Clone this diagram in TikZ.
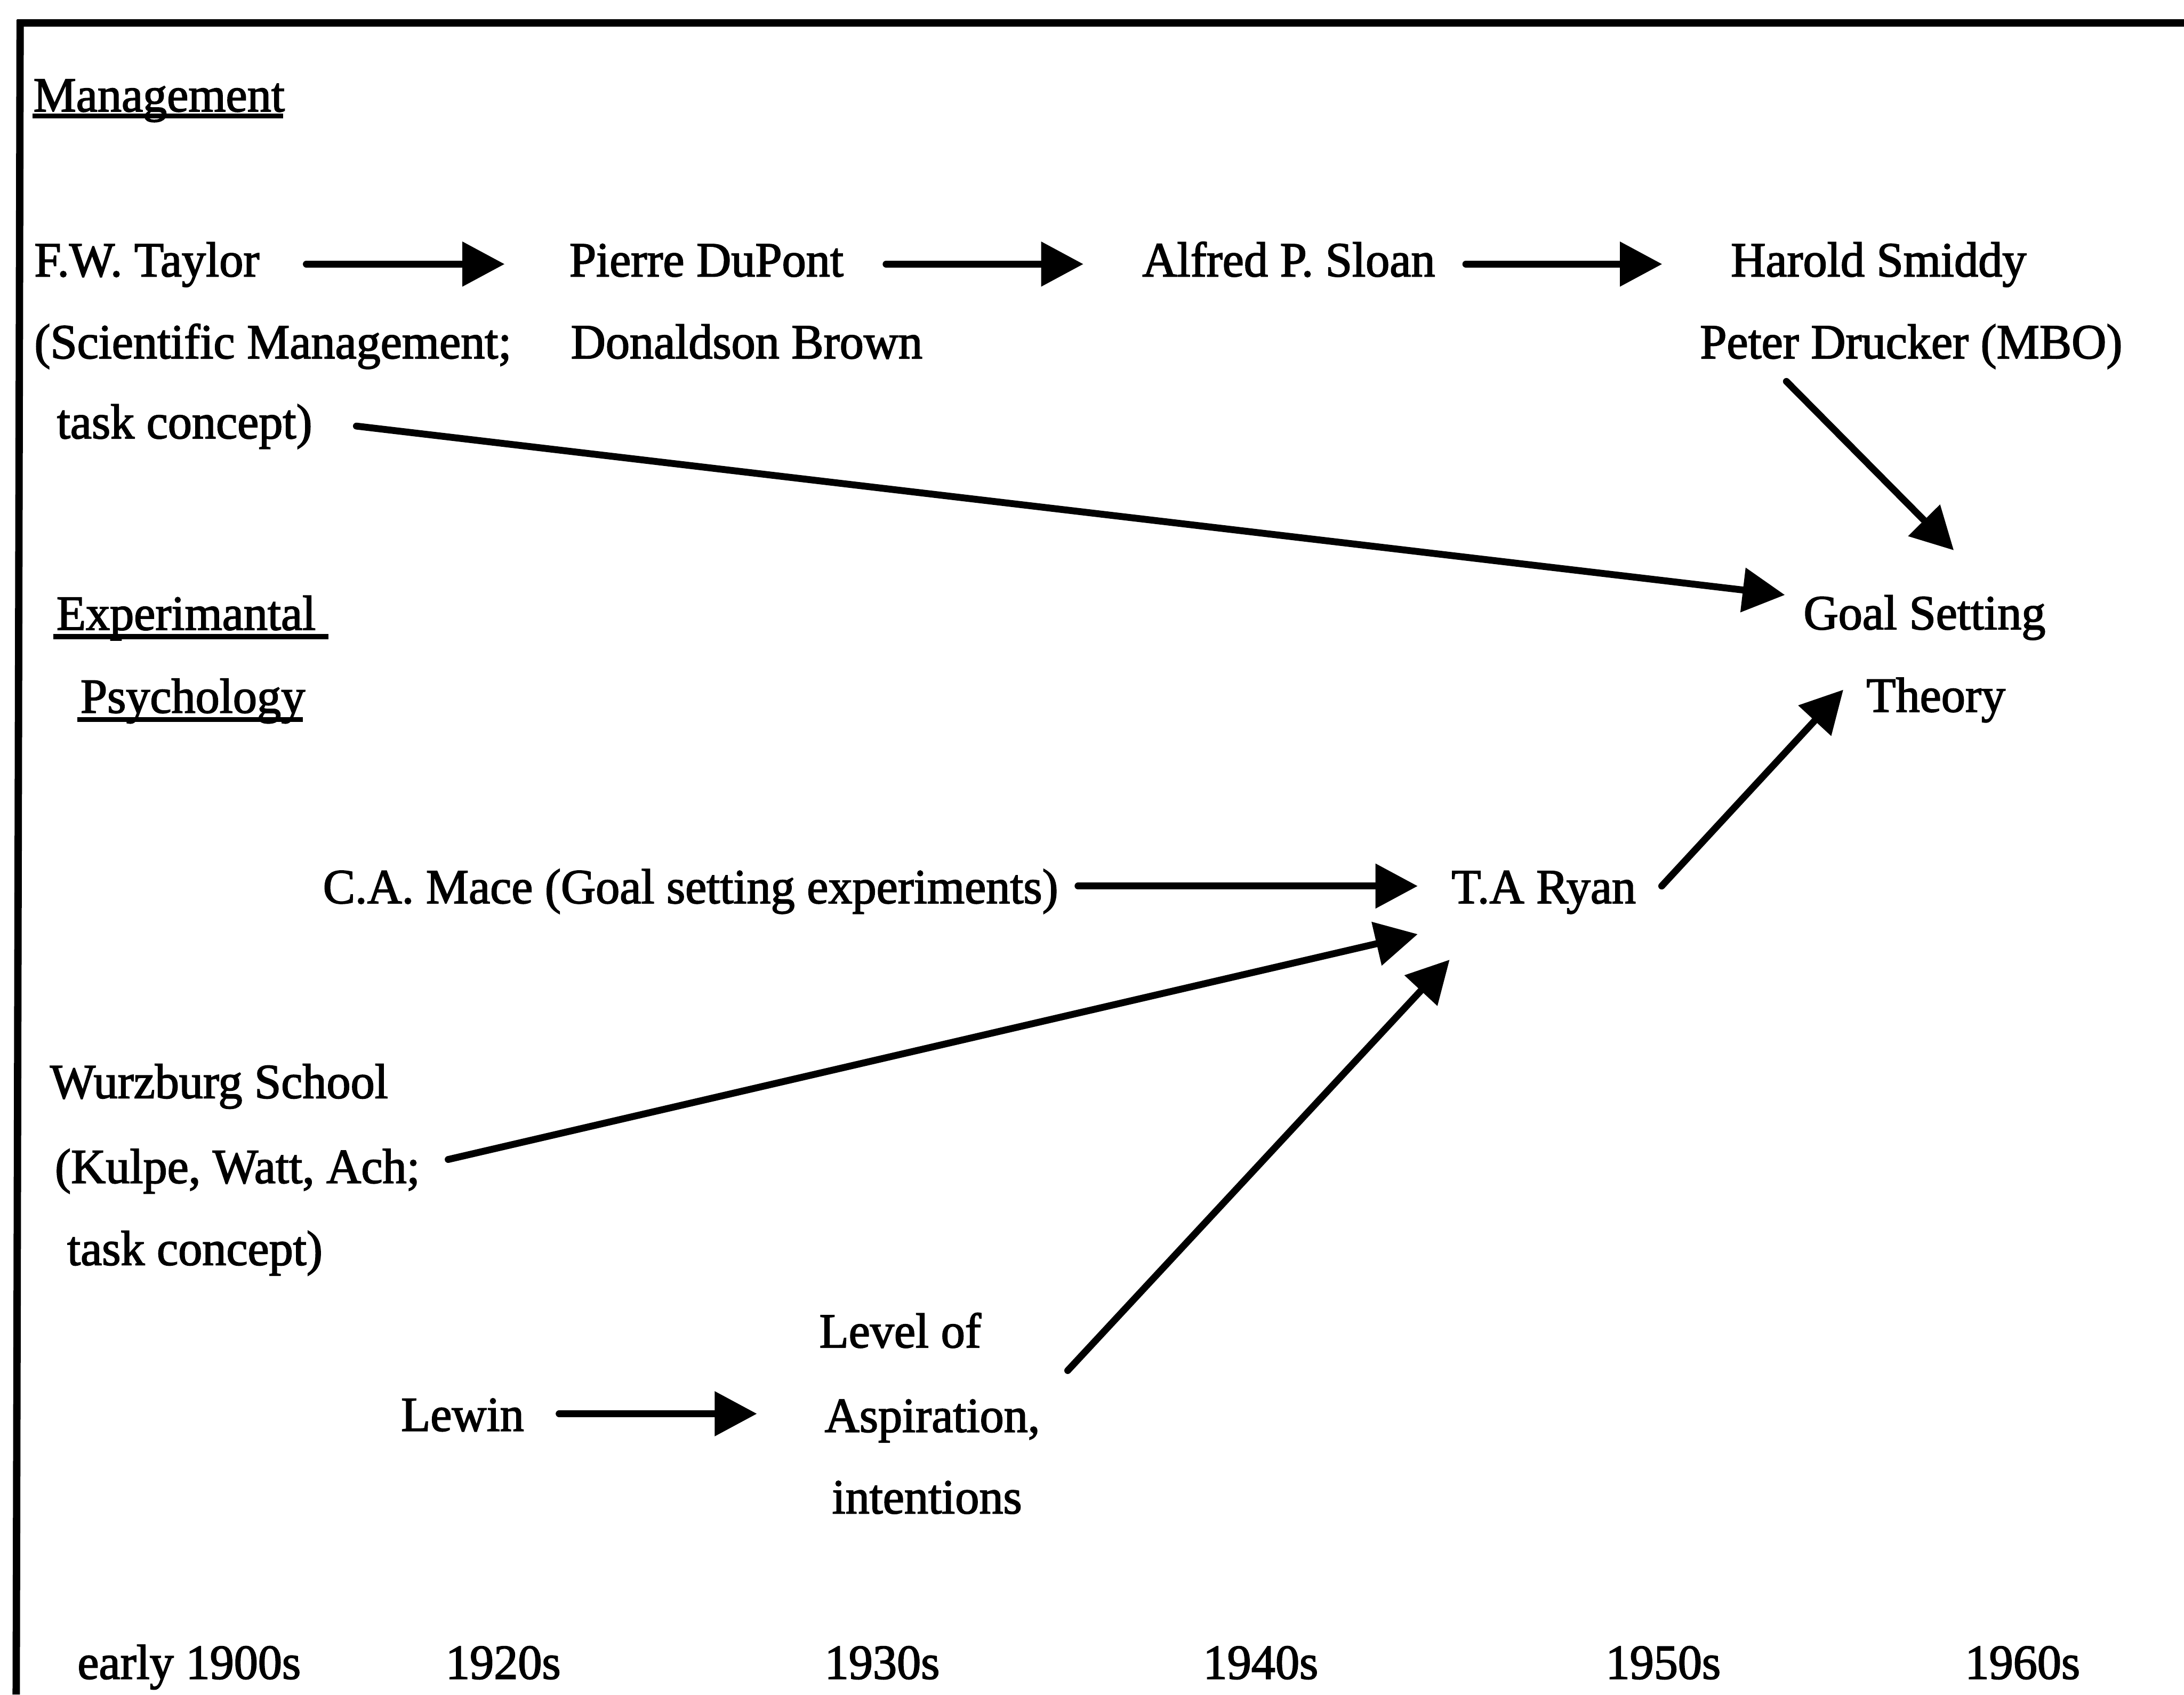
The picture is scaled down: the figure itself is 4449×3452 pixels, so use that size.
\documentclass[tikz,border=0pt]{standalone}
\usepackage{fontspec}
\setmainfont{Liberation Serif}[FakeStretch=0.98,FakeBold=2]
\usetikzlibrary{arrows.meta,calc}

\begin{document}
\begin{tikzpicture}[x=0.01cm,y=-0.01cm,
  lbl/.style={anchor=base west,inner sep=0pt,outer sep=0pt,
    font=\fontsize{28.45pt}{34pt}\selectfont},
  arr/.style={line width=0.14cm,line cap=round,
    -{Triangle[length=0.86cm,width=0.88cm]}},
  ul/.style={line width=0.10cm},
  frameline/.style={line width=0.15cm}]
\useasboundingbox (0,0) rectangle (4449,3452);

% open frame: top rule and left rule
\draw[frameline] (35,47) -- (4449,47);
\draw[frameline] (41,40) -- (33,3452);

% management lineage
\node[lbl] (mgmt)    at (68,227)   {Management};
\node[lbl] (taylor)  at (70,563)   {F.W. Taylor};
\node[lbl] (sciman)  at (70,730)   {(Scientific Management;};
\node[lbl] (taskA)   at (116,893)  {task concept)};
\node[lbl] (dupont)  at (1160,563) {Pierre DuPont};
\node[lbl] (brown)   at (1163,730) {Donaldson Brown};
\node[lbl] (sloan)   at (2327,563) {Alfred P. Sloan};
\node[lbl] (smiddy)  at (3526,563) {Harold Smiddy};
\node[lbl] (drucker) at (3463,730) {Peter Drucker (MBO)};

% the theory
\node[lbl] (goal)    at (3674,1282) {Goal Setting};
\node[lbl] (theory)  at (3802,1450) {Theory};

% experimental psychology lineage
\node[lbl] (exp)     at (115,1283) {Experimantal};
\node[lbl] (psych)   at (164,1452) {Psychology};
\node[lbl] (mace)    at (658,1840) {C.A. Mace (Goal setting experiments)};
\node[lbl] (ryan)    at (2957,1840) {T.A Ryan};
\node[lbl] (wurz)    at (102,2237) {Wurzburg School};
\node[lbl] (kulpe)   at (112,2410) {(Kulpe, Watt, Ach;};
\node[lbl] (taskB)   at (137,2577) {task concept)};
\node[lbl] (lewin)   at (817,2915) {Lewin};
\node[lbl] (level)   at (1669,2745) {Level of};
\node[lbl] (aspir)   at (1680,2917) {Aspiration,};
\node[lbl] (intent)  at (1695,3083) {intentions};

% time axis
\node[lbl] (d1900) at (158,3420)  {early 1900s};
\node[lbl] (d1920) at (908,3420)  {1920s};
\node[lbl] (d1930) at (1680,3420) {1930s};
\node[lbl] (d1940) at (2451,3420) {1940s};
\node[lbl] (d1950) at (3271,3420) {1950s};
\node[lbl] (d1960) at (4003,3420) {1960s};

% underlined headings
\draw[ul] ($(mgmt.base west)+(-2,9)$) -- ($(mgmt.base west)+(509,9)$);
\draw[ul] ($(exp.base west)+(-6,14)$) -- ($(exp.base west)+(554,14)$);
\draw[ul] ($(psych.base west)+(-6,14)$) -- ($(psych.base west)+(453,14)$);

% influences
\draw[arr] ($(taylor.base west)+(554,-25)$) -- ($(dupont.base west)+(-132,-25)$);
\draw[arr] ($(dupont.base west)+(645,-25)$) -- ($(sloan.base west)+(-120,-25)$);
\draw[arr] ($(sloan.base west)+(659,-25)$) -- ($(smiddy.base west)+(-140,-25)$);
\draw[arr] ($(taskA.base west)+(610,-25)$) -- ($(goal.base west)+(-38,-70)$);
\draw[arr] ($(drucker.base west)+(176,47)$) -- ($(goal.base west)+(306,-161)$);
\draw[arr] ($(mace.base west)+(1538,-35)$) -- ($(ryan.base west)+(-69,-35)$);
\draw[arr] ($(kulpe.base west)+(801,-48)$) -- ($(ryan.base west)+(-69,63)$);
\draw[arr] ($(level.base west)+(506,47)$) -- ($(ryan.base west)+(-4,115)$);
\draw[arr] ($(ryan.base west)+(428,-35)$) -- ($(theory.base west)+(-47,-45)$);
\draw[arr] ($(lewin.base west)+(322,-35)$) -- ($(aspir.base west)+(-138,-37)$);
\end{tikzpicture}
\end{document}
